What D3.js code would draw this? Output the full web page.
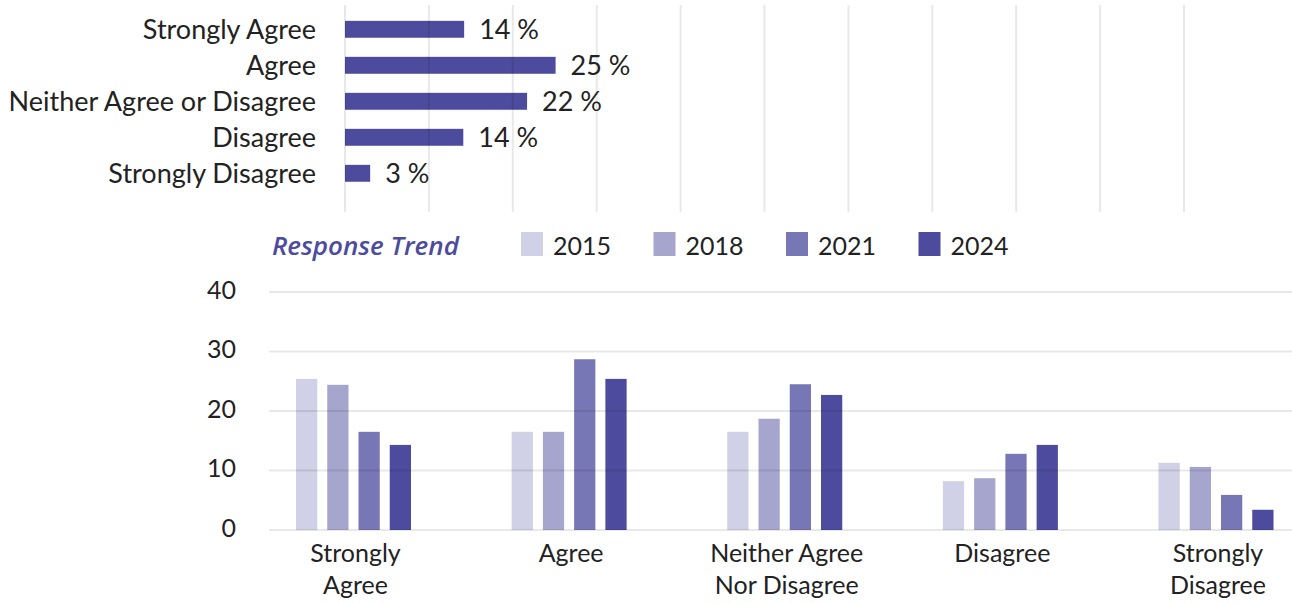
<!DOCTYPE html>
<html>
<head>
<meta charset="utf-8">
<script src="https://cdn.jsdelivr.net/npm/d3@7"></script>
<style>
  body { margin: 0; background: #fff; }
  svg { display: block; font-family: Lato, "Noto Sans", sans-serif; }
  text { fill: #222; }
</style>
</head>
<body>
<svg id="chart" width="1292" height="603"></svg>
<script>
// top chart: current responses
var responses = ["Strongly Agree", "Agree", "Neither Agree or Disagree", "Disagree", "Strongly Disagree"]
var current = [14.2, 25.1, 21.7, 14.1, 3.0]
var pctTicks = [0, 10, 20, 30, 40, 50, 60, 70, 80, 90, 100]

// bottom chart: trend by year
var trendCats = [["Strongly", "Agree"], ["Agree"], ["Neither Agree", "Nor Disagree"], ["Disagree"], ["Strongly", "Disagree"]]
var years = ["2015", "2018", "2021", "2024"]
var v2015 = [25.4, 16.5, 16.5, 8.2, 11.3]
var v2018 = [24.4, 16.5, 18.7, 8.7, 10.6]
var v2021 = [16.5, 28.7, 24.5, 12.8, 5.9]
var v2024 = [14.3, 25.4, 22.7, 14.3, 3.4]
var yTicks = [0, 10, 20, 30, 40]

var colors = ["#d0d0e6", "#a5a5ce", "#7877b6", "#4d4b9d"]
var gridColor = "rgba(0,0,0,0.09)"

var svg = d3.select("#chart")

// ---- top horizontal bars
var x1 = d3.scaleLinear().domain([0, 100]).range([345, 1184])
var y1 = d3.scaleBand().domain(responses).range([11.3, 191.3])
    .paddingInner(0.53).paddingOuter(0.265)

var topG = svg.append("g")

topG.selectAll("rect")
  .data(current)
  .enter().append("rect")
    .attr("x", x1(0))
    .attr("y", function(d, i) { return y1(responses[i]) })
    .attr("width", function(d) { return x1(d) - x1(0) })
    .attr("height", y1.bandwidth())
    .attr("fill", colors[3])

topG.selectAll("line.grid")
  .data(pctTicks)
  .enter().append("line")
    .attr("class", "grid")
    .attr("x1", x1).attr("x2", x1)
    .attr("y1", 5).attr("y2", 212)
    .attr("stroke", gridColor)
    .attr("stroke-width", 2)

topG.selectAll("text.cat")
  .data(responses)
  .enter().append("text")
    .attr("class", "cat")
    .attr("x", 316)
    .attr("y", function(d) { return y1(d) + y1.bandwidth() / 2 })
    .attr("dy", "0.35em")
    .attr("text-anchor", "end")
    .style("font-size", "27px")
    .text(function(d) { return d })

topG.selectAll("text.val")
  .data(current)
  .enter().append("text")
    .attr("class", "val")
    .attr("x", function(d) { return x1(d) + 15 })
    .attr("y", function(d, i) { return y1(responses[i]) + y1.bandwidth() / 2 })
    .attr("dy", "0.35em")
    .style("font-size", "27px")
    .text(function(d) { return d3.format(".0f")(d) + " %" })

// ---- legend
var legend = svg.append("g")
legend.append("text")
  .attr("x", 272).attr("y", 255)
  .style("font-family", "'Open Sans', sans-serif")
  .style("font-size", "26px")
  .style("font-style", "italic")
  .style("font-weight", "600")
  .style("fill", colors[3])
  .text("Response Trend")

var lg = legend.selectAll("g.item")
  .data(years)
  .enter().append("g")
    .attr("class", "item")
    .attr("transform", function(d, i) { return "translate(" + (521 + i * 132.5) + ",232)" })
lg.append("rect")
  .attr("width", 22).attr("height", 24)
  .attr("fill", function(d, i) { return colors[i] })
lg.append("text")
  .attr("x", 32).attr("y", 14)
  .attr("dy", "0.35em")
  .style("font-size", "25px")
  .text(function(d) { return d })

// ---- bottom grouped bars
var series = [v2015, v2018, v2021, v2024]
var x0 = d3.scalePoint().domain(d3.range(trendCats.length)).range([353.5, 1216])
var xi = d3.scaleBand().domain(years).range([-57.5, 57.5]).paddingInner(0.32)
var y2 = d3.scaleLinear().domain([0, 40]).range([530, 292])

var bottom = svg.append("g")

var groups = bottom.selectAll("g.year")
  .data(series)
  .enter().append("g")
    .attr("class", "year")
    .attr("fill", function(d, i) { return colors[i] })

groups.each(function(vals, si) {
  d3.select(this).selectAll("rect")
    .data(vals)
    .enter().append("rect")
      .attr("x", function(d, ci) { return x0(ci) + xi(years[si]) })
      .attr("y", function(d) { return y2(d) })
      .attr("width", xi.bandwidth())
      .attr("height", function(d) { return y2(0) - y2(d) })
})

bottom.selectAll("line.grid")
  .data(yTicks)
  .enter().append("line")
    .attr("class", "grid")
    .attr("x1", 269).attr("x2", 1292)
    .attr("y1", y2).attr("y2", y2)
    .attr("stroke", gridColor)
    .attr("stroke-width", 2)

bottom.selectAll("text.tick")
  .data(yTicks)
  .enter().append("text")
    .attr("class", "tick")
    .attr("x", 236)
    .attr("y", function(d) { return y2(d) - 2 })
    .attr("dy", "0.35em")
    .attr("text-anchor", "end")
    .style("font-size", "25px")
    .text(function(d) { return d })

var labels = bottom.selectAll("text.xlab")
  .data(trendCats)
  .enter().append("text")
    .attr("class", "xlab")
    .attr("text-anchor", "middle")
    .style("font-size", "25px")
labels.selectAll("tspan")
  .data(function(d, i) { return d.map(function(s) { return { s: s, i: i } }) })
  .enter().append("tspan")
    .attr("x", function(d) { return x0(d.i) + 2 })
    .attr("y", function(d, j) { return 562 + j * 32 })
    .text(function(d) { return d.s })
</script>
</body>
</html>
